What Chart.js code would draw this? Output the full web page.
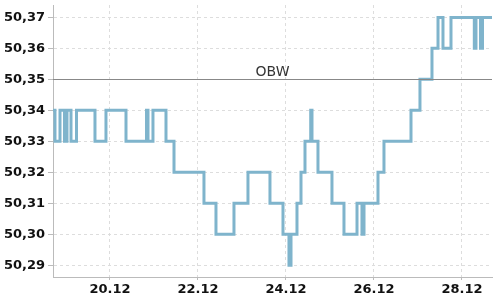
<!DOCTYPE html>
<html><head><meta charset="utf-8">
<script src="https://cdn.jsdelivr.net/npm/chart.js@4"></script>
<style>html,body{margin:0;padding:0;background:#fff}</style>
</head><body>
<canvas id="c" width="500" height="300"></canvas>
<script>
// time in days of December (fractional), value at which the rate changes
const times = [18.705, 18.75, 18.864, 18.966, 19.023, 19.114, 19.239, 19.659, 19.909, 20.364,
  20.83, 20.864, 20.977, 21.273, 21.455, 22.136, 22.409, 22.818, 23.136, 23.636,
  23.932, 24.068, 24.114, 24.25, 24.341, 24.432, 24.562, 24.591, 24.727, 25.045,
  25.318, 25.614, 25.727, 25.773, 26.091, 26.227, 26.841, 27.045, 27.318, 27.455,
  27.568, 27.75, 28.28, 28.318, 28.42, 28.466, 28.682];
const values = [50.34, 50.33, 50.34, 50.33, 50.34, 50.33, 50.34, 50.33, 50.34, 50.33,
  50.34, 50.33, 50.34, 50.33, 50.32, 50.31, 50.30, 50.31, 50.32, 50.31,
  50.30, 50.29, 50.30, 50.31, 50.32, 50.33, 50.34, 50.33, 50.32, 50.31,
  50.30, 50.31, 50.30, 50.31, 50.32, 50.33, 50.34, 50.35, 50.36, 50.37,
  50.36, 50.37, 50.36, 50.37, 50.36, 50.37, 50.37];
const xTicks = [20, 22, 24, 26, 28];
const xTickLabels = ['20.12', '22.12', '24.12', '26.12', '28.12'];
const yTicks = [50.29, 50.30, 50.31, 50.32, 50.33, 50.34, 50.35, 50.36, 50.37];
const yTickLabels = ['50,29', '50,30', '50,31', '50,32', '50,33', '50,34', '50,35', '50,36', '50,37'];
const obwLevel = 50.35;
const obwLabel = 'OBW';

const points = times.map((t, i) => ({x: t, y: values[i]}));

const obwPlugin = {
  id: 'obw',
  afterDatasetsDraw(chart) {
    const {ctx, chartArea, scales} = chart;
    const y = Math.round(scales.y.getPixelForValue(obwLevel)) + 0.5;
    ctx.save();
    ctx.strokeStyle = '#888';
    ctx.lineWidth = 1;
    ctx.beginPath();
    ctx.moveTo(chartArea.left, y);
    ctx.lineTo(chartArea.right, y);
    ctx.stroke();
    ctx.fillStyle = '#333';
    ctx.font = '14px "DejaVu Sans"';
    ctx.textAlign = 'center';
    ctx.textBaseline = 'alphabetic';
    ctx.fillText(obwLabel, (chartArea.left + chartArea.right) / 2, y - 3.5);
    ctx.restore();
  }
};

new Chart(document.getElementById('c'), {
  type: 'line',
  data: {
    datasets: [{
      data: points,
      borderColor: 'rgb(127,180,204)',
      borderWidth: 3,
      pointRadius: 0,
      stepped: 'before',
      fill: false,
      tension: 0
    }]
  },
  options: {
    responsive: false,
    animation: false,
    layout: {padding: {top: 5, right: 8, left: 0, bottom: 0}},
    plugins: {legend: {display: false}, tooltip: {enabled: false}},
    scales: {
      x: {
        type: 'linear',
        min: times[0],
        max: times[times.length - 1],
        afterBuildTicks: s => { s.ticks = xTicks.map(v => ({value: v})); },
        afterFit: s => { s.height = 23; s.paddingLeft = 0; s.paddingRight = 0; },
        ticks: {
          callback: (v) => xTickLabels[xTicks.indexOf(v)],
          font: {family: 'DejaVu Sans', size: 13, weight: 'bold'},
          color: '#111',
          padding: 2,
          maxRotation: 0,
          autoSkip: false
        },
        grid: {color: '#ddd', tickLength: 3, tickColor: '#bbb'},
        border: {color: '#bbb', width: 1, dash: [3, 3]}
      },
      y: {
        type: 'linear',
        min: 50.2862,
        max: 50.374,
        afterBuildTicks: s => { s.ticks = yTicks.map(v => ({value: v})); },
        afterFit: s => { s.width = 53; s.paddingTop = 0; s.paddingBottom = 0; },
        ticks: {
          callback: (v) => yTickLabels[yTicks.indexOf(v)],
          font: {family: 'DejaVu Sans', size: 13, weight: 'bold'},
          color: '#111',
          padding: 3,
          autoSkip: false
        },
        grid: {color: '#ddd', tickLength: 5, tickColor: '#bbb'},
        border: {color: '#bbb', width: 1, dash: [3, 3]}
      }
    }
  },
  plugins: [obwPlugin]
});
</script>
</body></html>
